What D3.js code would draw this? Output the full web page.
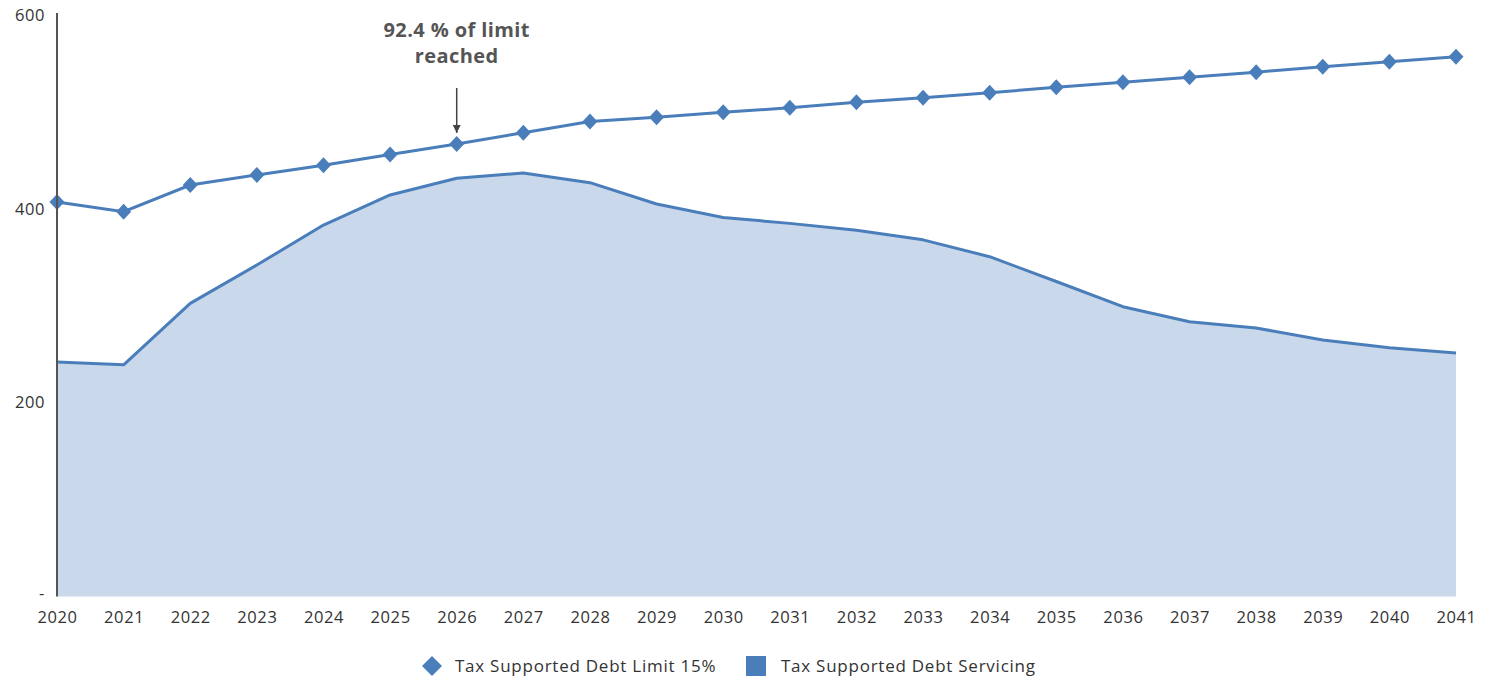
<!DOCTYPE html>
<html><head><meta charset="utf-8">
<script src="https://cdn.jsdelivr.net/npm/d3@7"></script>
<style>
html,body{margin:0;padding:0;background:#fff;}
svg{display:block;font-family:"Open Sans",sans-serif;}
</style></head>
<body><svg id="c" width="1486" height="679"></svg>
<script>
const years = [2020,2021,2022,2023,2024,2025,2026,2027,2028,2029,2030,2031,2032,2033,2034,2035,2036,2037,2038,2039,2040,2041];
const debtLimit = [407,397,424.6,435,445,456,467,478.6,490,494.4,499.6,504.3,510,514.7,519.8,525.4,530.6,535.7,541,546.7,551.8,557];
const debtServicing = [242,239,302.5,342,383.3,414.3,431.5,437,427,405,391,385,378,368,350.6,325,299,283.5,277,264.7,256.7,251.2];
const yTicks = [0,200,400,600];
const yTickLabels = ["-","200","400","600"];
const seriesNames = ["Tax Supported Debt Limit 15%","Tax Supported Debt Servicing"];
const annotationLines = ["92.4 % of limit","reached"];
const annotationYear = 2026;

const svg = d3.select("#c");
const x = d3.scaleLinear().domain([2020,2041]).range([57,1456]);
const y = d3.scaleLinear().domain([0,600]).range([596.5,15]);
const lineColor = "#4a7ebb";
const fillColor = "#c9d8eb";
const textColor = "#333";
const fs = 16.5, ls = 0.6;

const dataS = years.map((yr,i)=>({yr, v:debtServicing[i]}));
const dataL = years.map((yr,i)=>({yr, v:debtLimit[i]}));

// area
svg.append("path").datum(dataS)
  .attr("d", d3.area().x(d=>x(d.yr)).y0(y(0)).y1(d=>y(d.v)))
  .attr("fill", fillColor);
svg.append("path").datum(dataS)
  .attr("d", d3.line().x(d=>x(d.yr)).y(d=>y(d.v)))
  .attr("fill","none").attr("stroke",lineColor).attr("stroke-width",3).attr("stroke-linejoin","round");

// limit line
svg.append("path").datum(dataL)
  .attr("d", d3.line().x(d=>x(d.yr)).y(d=>y(d.v)))
  .attr("fill","none").attr("stroke",lineColor).attr("stroke-width",3);
const diamondPath = (w,h)=>`M0,${-h}L${w},0L0,${h}L${-w},0Z`;
svg.append("g").selectAll("path").data(dataL).join("path")
  .attr("d", diamondPath(7.5,8))
  .attr("transform", d=>`translate(${x(d.yr)},${y(d.v)})`)
  .attr("fill", lineColor);

// y axis
const yAxis = d3.axisLeft(y).tickValues(yTicks).tickFormat((d,i)=>yTickLabels[i]).tickSize(0).tickPadding(12);
const ga = svg.append("g").attr("transform",`translate(${x(2020)},0)`).call(yAxis);
ga.select(".domain").attr("stroke","#555").attr("stroke-width",2).attr("d",`M0,${y(0)}V13`);
ga.selectAll("text").attr("font-size",fs).attr("letter-spacing",ls).attr("fill",textColor).attr("font-family","Open Sans, sans-serif");
ga.selectAll(".tick text").filter((d,i)=>yTickLabels[i]==="-").attr("dy","0.1em");

// x axis
const xAxis = d3.axisBottom(x).tickValues(years).tickFormat(d3.format("d")).tickSize(0).tickPadding(15);
const gx = svg.append("g").attr("transform",`translate(0,${y(0)})`).call(xAxis);
gx.select(".domain").remove();
gx.selectAll("text").attr("font-size",fs).attr("letter-spacing",ls).attr("fill",textColor).attr("font-family","Open Sans, sans-serif");

// annotation
const ax = x(annotationYear);
const ann = svg.append("text").attr("x",ax).attr("text-anchor","middle")
  .attr("font-size",20).attr("letter-spacing",0.4).attr("font-weight","bold").attr("fill","#555");
annotationLines.forEach((t,i)=>ann.append("tspan").attr("x",ax).attr("y",37+i*26).text(t));
svg.append("defs").append("marker").attr("id","arr").attr("viewBox","0 0 10 10")
  .attr("refX",10).attr("refY",5).attr("markerWidth",8).attr("markerHeight",8)
  .attr("markerUnits","userSpaceOnUse").attr("orient","auto")
  .append("path").attr("d","M0,0L10,5L0,10Z").attr("fill","#444");
svg.append("line").attr("x1",ax).attr("x2",ax).attr("y1",88).attr("y2",y(debtLimit[years.indexOf(annotationYear)])-11)
  .attr("stroke","#444").attr("stroke-width",1.5).attr("marker-end","url(#arr)");

// legend
const lg = svg.append("g").attr("font-size",17).attr("letter-spacing",0.75).attr("fill",textColor);
lg.append("path").attr("d", diamondPath(10,10)).attr("transform","translate(432,666)").attr("fill",lineColor);
lg.append("text").attr("x",455).attr("y",672).text(seriesNames[0]);
lg.append("rect").attr("x",746).attr("y",656).attr("width",20).attr("height",20).attr("fill",lineColor);
lg.append("text").attr("x",781).attr("y",672).text(seriesNames[1]);
</script></body></html>
